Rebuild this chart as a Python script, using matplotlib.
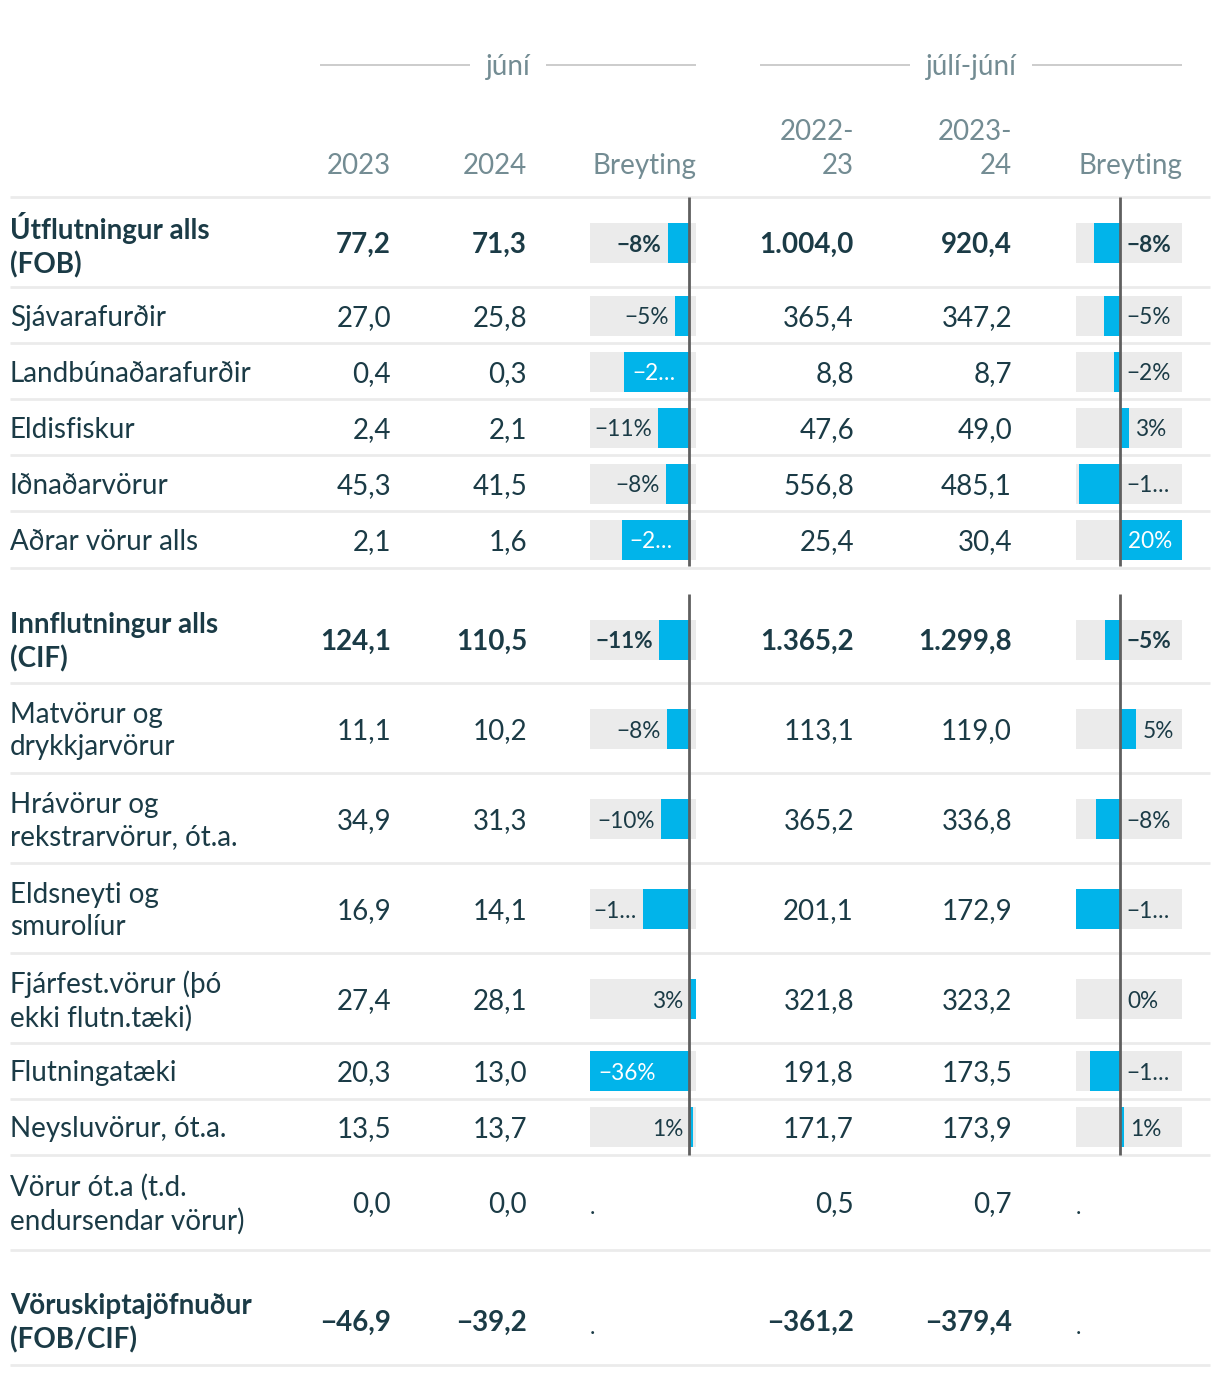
import matplotlib
matplotlib.use("Agg")
import matplotlib.pyplot as plt
from matplotlib.transforms import offset_copy

# ---------------- data ----------------
categories = [
    "Útflutningur alls\n(FOB)", "Sjávarafurðir", "Landbúnaðarafurðir", "Eldisfiskur",
    "Iðnaðarvörur", "Aðrar vörur alls", "Innflutningur alls\n(CIF)",
    "Matvörur og\ndrykkjarvörur", "Hrávörur og\nrekstrarvörur, ót.a.",
    "Eldsneyti og\nsmurolíur", "Fjárfest.vörur (þó\nekki flutn.tæki)", "Flutningatæki",
    "Neysluvörur, ót.a.", "Vörur ót.a (t.d.\nendursendar vörur)",
    "Vöruskiptajöfnuður\n(FOB/CIF)",
]
bold_rows = [True, False, False, False, False, False, True,
             False, False, False, False, False, False, False, True]

jun_2023 = [77.2, 27.0, 0.4, 2.4, 45.3, 2.1, 124.1, 11.1, 34.9, 16.9, 27.4, 20.3, 13.5, 0.0, -46.9]
jun_2024 = [71.3, 25.8, 0.3, 2.1, 41.5, 1.6, 110.5, 10.2, 31.3, 14.1, 28.1, 13.0, 13.7, 0.0, -39.2]
ytd_2223 = [1004.0, 365.4, 8.8, 47.6, 556.8, 25.4, 1365.2, 113.1, 365.2, 201.1, 321.8, 191.8, 171.7, 0.5, -361.2]
ytd_2324 = [920.4, 347.2, 8.7, 49.0, 485.1, 30.4, 1299.8, 119.0, 336.8, 172.9, 323.2, 173.5, 173.9, 0.7, -379.4]

jun_change = [-7.8, -5.3, -23.5, -11.3, -8.4, -24.5, -11.0, -8.2, -10.3, -16.8, 2.5, -36.0, 1.3, None, None]
ytd_change = [-8.3, -5.0, -1.9, 2.9, -12.9, 19.7, -4.8, 5.2, -7.8, -14.0, 0.4, -9.5, 1.3, None, None]

jun_labels = ["−8%", "−5%", "−2…", "−11%", "−8%", "−2…", "−11%", "−8%", "−10%", "−1…", "3%", "−36%", "1%", ".", "."]
ytd_labels = ["−8%", "−5%", "−2%", "3%", "−1…", "20%", "−5%", "5%", "−8%", "−1…", "0%", "−1…", "1%", ".", "."]

group_titles = ["júní", "júlí-júní"]
col_headers = [["2023"], ["2024"], ["Breyting"], ["2022-", "23"], ["2023-", "24"], ["Breyting"]]

# ---------------- layout / style ----------------
W, H = 1220, 1376
FONT = "Lato"
TXT = "#1b3b46"
HDR = "#738c93"
BLUE = "#01b4ea"
BG = "#ebebeb"
SEP = "#ebebeb"
ZERO = "#5f5f5f"
FS = 20
FS_BAR = 16.3

row_y = [243, 316, 372, 428, 484, 540, 640, 729, 819, 909, 999, 1071, 1127, 1202, 1321]
sep_y = [197, 287, 343, 399, 455, 511, 568, 683, 773, 863, 953, 1043, 1099, 1155, 1250, 1365]
zero_spans = [(197, 566), (594, 1155)]
num_cols_x = [391, 527, 854, 1012]
bar_cols = [(590, 106), (1076, 106)]
hdr_x = [391, 527, 696, 854, 1012, 1182]
BAR_H = 40
DY = 2  # text optical offset

plt.rcParams["font.family"] = [FONT, "DejaVu Sans"]

fig = plt.figure(figsize=(W / 100, H / 100), dpi=100)
ax = fig.add_axes([0, 0, 1, 1])
ax.set_xlim(0, W)
ax.set_ylim(H, 0)
ax.axis("off")


def fmt(v):
    s = f"{abs(v):,.1f}".replace(",", "X").replace(".", ",").replace("X", ".")
    return ("−" + s) if v < 0 else s


# group headers
for title, (x0, x1) in zip(group_titles, [(320, 696), (760, 1182)]):
    xc = (x0 + x1) / 2
    ax.text(xc, 65 + DY, title, ha="center", va="center", fontsize=FS, color=HDR)
    half = 38 if title == "júní" else 61
    ax.plot([x0, xc - half], [65, 65], color="#c8c8c8", lw=1.3, solid_capstyle="butt")
    ax.plot([xc + half, x1], [65, 65], color="#c8c8c8", lw=1.3, solid_capstyle="butt")

# column headers
for x, lines in zip(hdr_x, col_headers):
    ys = [164] if len(lines) == 1 else [130, 164]
    for yy, ln in zip(ys, lines):
        ax.text(x, yy + DY, ln, ha="right", va="center", fontsize=FS, color=HDR)

# separators
for y in sep_y:
    ax.plot([10, 1210], [y, y], color=SEP, lw=2, solid_capstyle="butt", zorder=1)

# row labels & numbers
cols = [jun_2023, jun_2024, ytd_2223, ytd_2324]
for i, cat in enumerate(categories):
    fw = "bold" if bold_rows[i] else "normal"
    ax.text(10, row_y[i] + DY, cat, ha="left", va="center", fontsize=FS, color=TXT,
            fontweight=fw, linespacing=1.33)
    for x, col in zip(num_cols_x, cols):
        ax.text(x, row_y[i] + DY, fmt(col[i]), ha="right", va="center", fontsize=FS,
                color=TXT, fontweight=fw)

# bar columns
for (left, width), vals, labels in zip(bar_cols, [jun_change, ytd_change], [jun_labels, ytd_labels]):
    valid = [v for v in vals if v is not None]
    vmin, vmax = min(0, min(valid)), max(0, max(valid))
    bx = fig.add_axes([left / W, 0, width / W, 1])
    bx.set_xlim(vmin, vmax)
    bx.set_ylim(H, 0)
    bx.axis("off")
    label_left = abs(vmin) >= abs(vmax)  # outside labels go to the roomier side
    px_per = width / (vmax - vmin)
    for i, v in enumerate(vals):
        fw = "bold" if bold_rows[i] else "normal"
        if v is None:
            bx.text(vmin, row_y[i] + 6, labels[i], ha="left", va="center",
                    fontsize=FS_BAR, color=TXT)
            continue
        bx.barh(row_y[i], vmax - vmin, left=vmin, height=BAR_H, color=BG, zorder=1)
        bx.barh(row_y[i], v, left=0, height=BAR_H, color=BLUE, zorder=2)
        blen = abs(v) * px_per
        if label_left:
            outside = (min(v, 0) - vmin) * px_per
        else:
            outside = (vmax - max(v, 0)) * px_per
        ty = row_y[i] + DY
        if blen > outside:
            tr = offset_copy(bx.transData, fig=fig, x=8, y=0, units="dots")
            bx.text(min(v, 0), ty, labels[i], ha="left", va="center",
                    fontsize=FS_BAR, color="white", fontweight=fw, transform=tr, zorder=4)
        elif label_left:
            tr = offset_copy(bx.transData, fig=fig, x=-6, y=0, units="dots")
            bx.text(min(v, 0), ty, labels[i], ha="right", va="center",
                    fontsize=FS_BAR, color=TXT, fontweight=fw, transform=tr, zorder=4)
        else:
            tr = offset_copy(bx.transData, fig=fig, x=6, y=0, units="dots")
            bx.text(max(v, 0), ty, labels[i], ha="left", va="center",
                    fontsize=FS_BAR, color=TXT, fontweight=fw, transform=tr, zorder=4)
    for y0, y1 in zero_spans:
        bx.vlines(0, y0, y1, color=ZERO, lw=2, zorder=3)

fig.savefig("out.png", dpi=100, facecolor="white")
